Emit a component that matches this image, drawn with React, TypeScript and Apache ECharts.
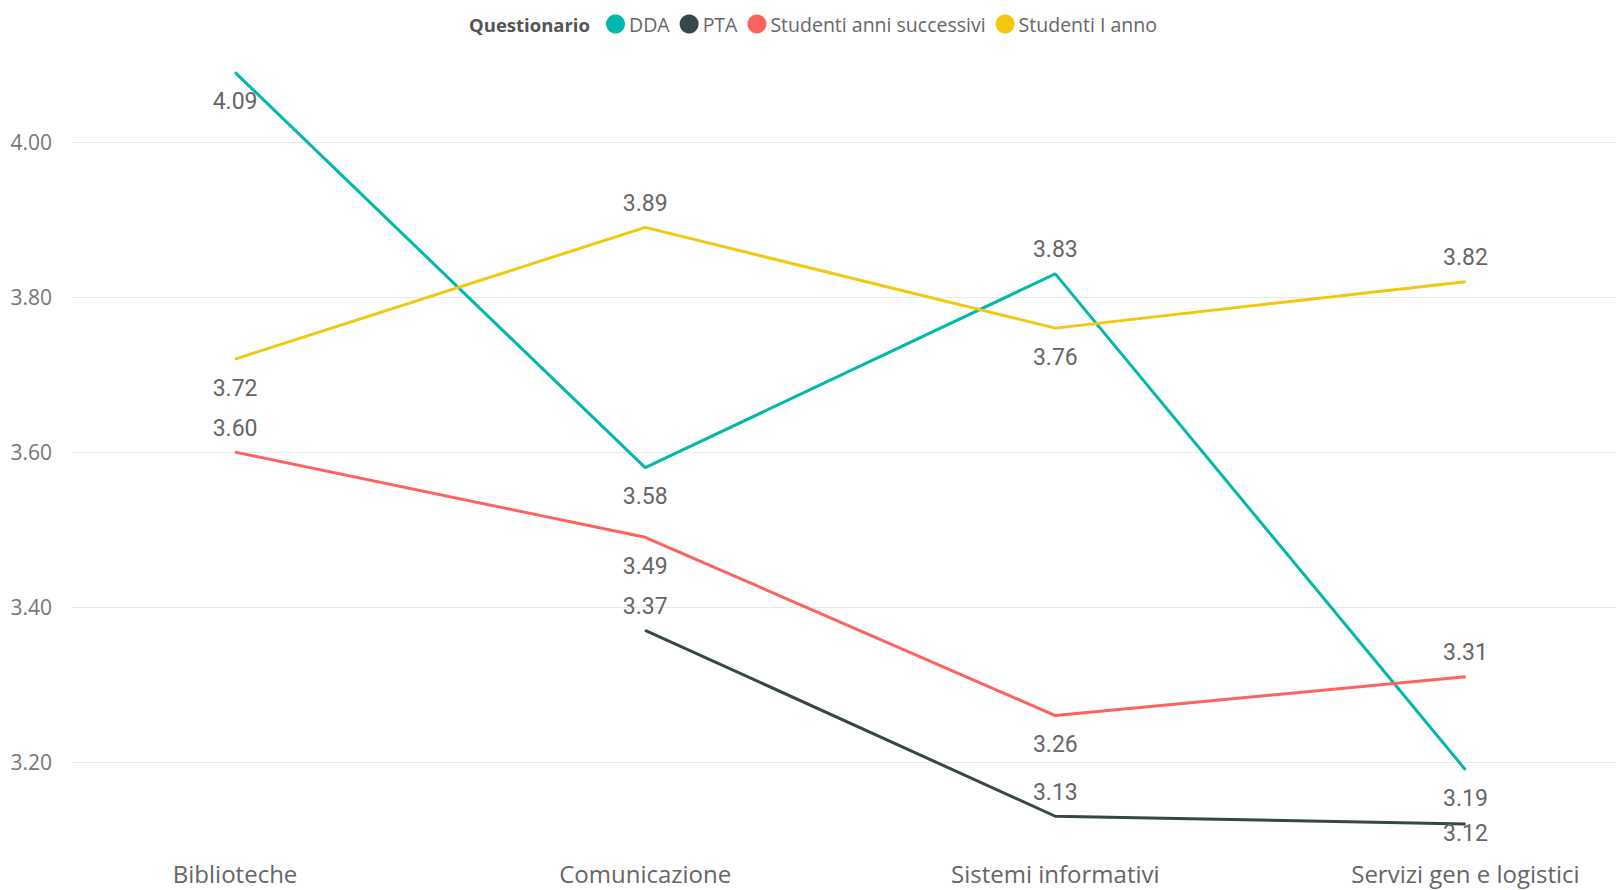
import React, { useEffect, useRef } from "react";
import * as echarts from "echarts";

const categories = ["Biblioteche", "Comunicazione", "Sistemi informativi", "Servizi gen e logistici"];
const seriesNames = ["DDA", "PTA", "Studenti anni successivi", "Studenti I anno"];
const ddaValues = [4.09, 3.58, 3.83, 3.19];
const ptaValues = [null, 3.37, 3.13, 3.12];
const studSuccValues = [3.6, 3.49, 3.26, 3.31];
const studPrimoValues = [3.72, 3.89, 3.76, 3.82];
const yTickMin = 3.2;
const yTickMax = 4.0;
const yTickStep = 0.2;
const yRangeMin = 3.1;
const yRangeMax = 4.1;

// label placement per point (above / below)
const ddaLabelPos = ["bottom", "bottom", "top", "bottom"];
const ptaLabelPos = ["top", "top", "top", "under"];
const studSuccLabelPos = ["top", "bottom", "bottom", "top"];
const studPrimoLabelPos = ["bottom", "top", "bottom", "top"];

const colors = ["#01B8AA", "#374649", "#FD625E", "#F2C80F"];

function buildData(values: (number | null)[], pos: string[]) {
  return values.map((v, i) => {
    if (v === null) return null;
    const p = pos[i];
    return {
      value: v,
      label: {
        position: p === "top" ? "top" : "bottom",
        distance: p === "top" ? 12 : p === "under" ? -3 : 17,
      },
    };
  });
}

export default function App() {
  const ref = useRef<HTMLDivElement>(null);
  useEffect(() => {
    document.body.style.margin = "0";
    if (!ref.current) return;
    const chart = echarts.init(ref.current, null, { renderer: "svg" });
    const lineSeries = [
      [ddaValues, ddaLabelPos],
      [ptaValues, ptaLabelPos],
      [studSuccValues, studSuccLabelPos],
      [studPrimoValues, studPrimoLabelPos],
    ].map(([vals, pos], i) => ({
      name: seriesNames[i],
      type: "line",
      xAxisIndex: 1,
      yAxisIndex: 1,
      data: buildData(vals as (number | null)[], pos as string[]),
      symbol: "circle",
      symbolSize: 1,
      showSymbol: true,
      connectNulls: false,
      clip: false,
      lineStyle: { width: 3, color: colors[i] },
      itemStyle: { color: colors[i] },
      label: {
        show: true,
        formatter: (p: any) => Number(p.value).toFixed(2),
        fontFamily: "Roboto",
        fontSize: 23,
        color: "#666666",
      },
      emphasis: { disabled: true },
    }));

    chart.setOption({
      animation: false,
      backgroundColor: "#ffffff",
      textStyle: { fontFamily: "Open Sans" },
      graphic: [
        {
          type: "text",
          x: 469,
          y: 24,
          style: {
            text: "Questionario",
            fontFamily: "Open Sans",
            fontWeight: "bold",
            fontSize: 18.5,
            fill: "#555555",
            verticalAlign: "middle",
          },
        },
      ],
      legend: {
        left: 601,
        top: 9,
        icon: "circle",
        itemWidth: 19,
        itemHeight: 19,
        itemGap: 10,
        data: seriesNames,
        textStyle: { fontFamily: "Open Sans", fontSize: 19.5, color: "#666666", padding: [0, 0, 0, -1] },
      },
      grid: [
        { left: 72, right: 0, top: 142.2, bottom: 128, outerBoundsMode: "none" },
        { left: 30, right: -54.5, top: 64.7, bottom: 50.5, outerBoundsMode: "none", containLabel: false },
      ],
      xAxis: [
        {
          type: "category",
          gridIndex: 0,
          data: categories,
          show: false,
        },
        {
          type: "category",
          gridIndex: 1,
          data: categories,
          boundaryGap: true,
          axisLine: { show: false },
          axisTick: { show: false },
          splitLine: { show: false },
          axisLabel: {
            fontFamily: "Open Sans",
            fontSize: 24,
            color: "#666666",
            margin: 22,
            interval: 0,
          },
        },
      ],
      yAxis: [
        {
          type: "value",
          gridIndex: 0,
          min: yTickMin,
          max: yTickMax,
          interval: yTickStep,
          axisLine: { show: false },
          axisTick: { show: false },
          axisLabel: {
            formatter: (v: number) => v.toFixed(2),
            fontFamily: "Open Sans",
            fontSize: 21,
            color: "#777777",
            margin: 20,
          },
          splitLine: { show: true, lineStyle: { color: "#e9e9e9", width: 1 } },
        },
        {
          type: "value",
          gridIndex: 1,
          min: yRangeMin,
          max: yRangeMax,
          show: false,
          splitLine: { show: false },
        },
      ],
      series: lineSeries,
    });
    return () => chart.dispose();
  }, []);
  return <div ref={ref} style={{ width: 1616, height: 890 }} />;
}
